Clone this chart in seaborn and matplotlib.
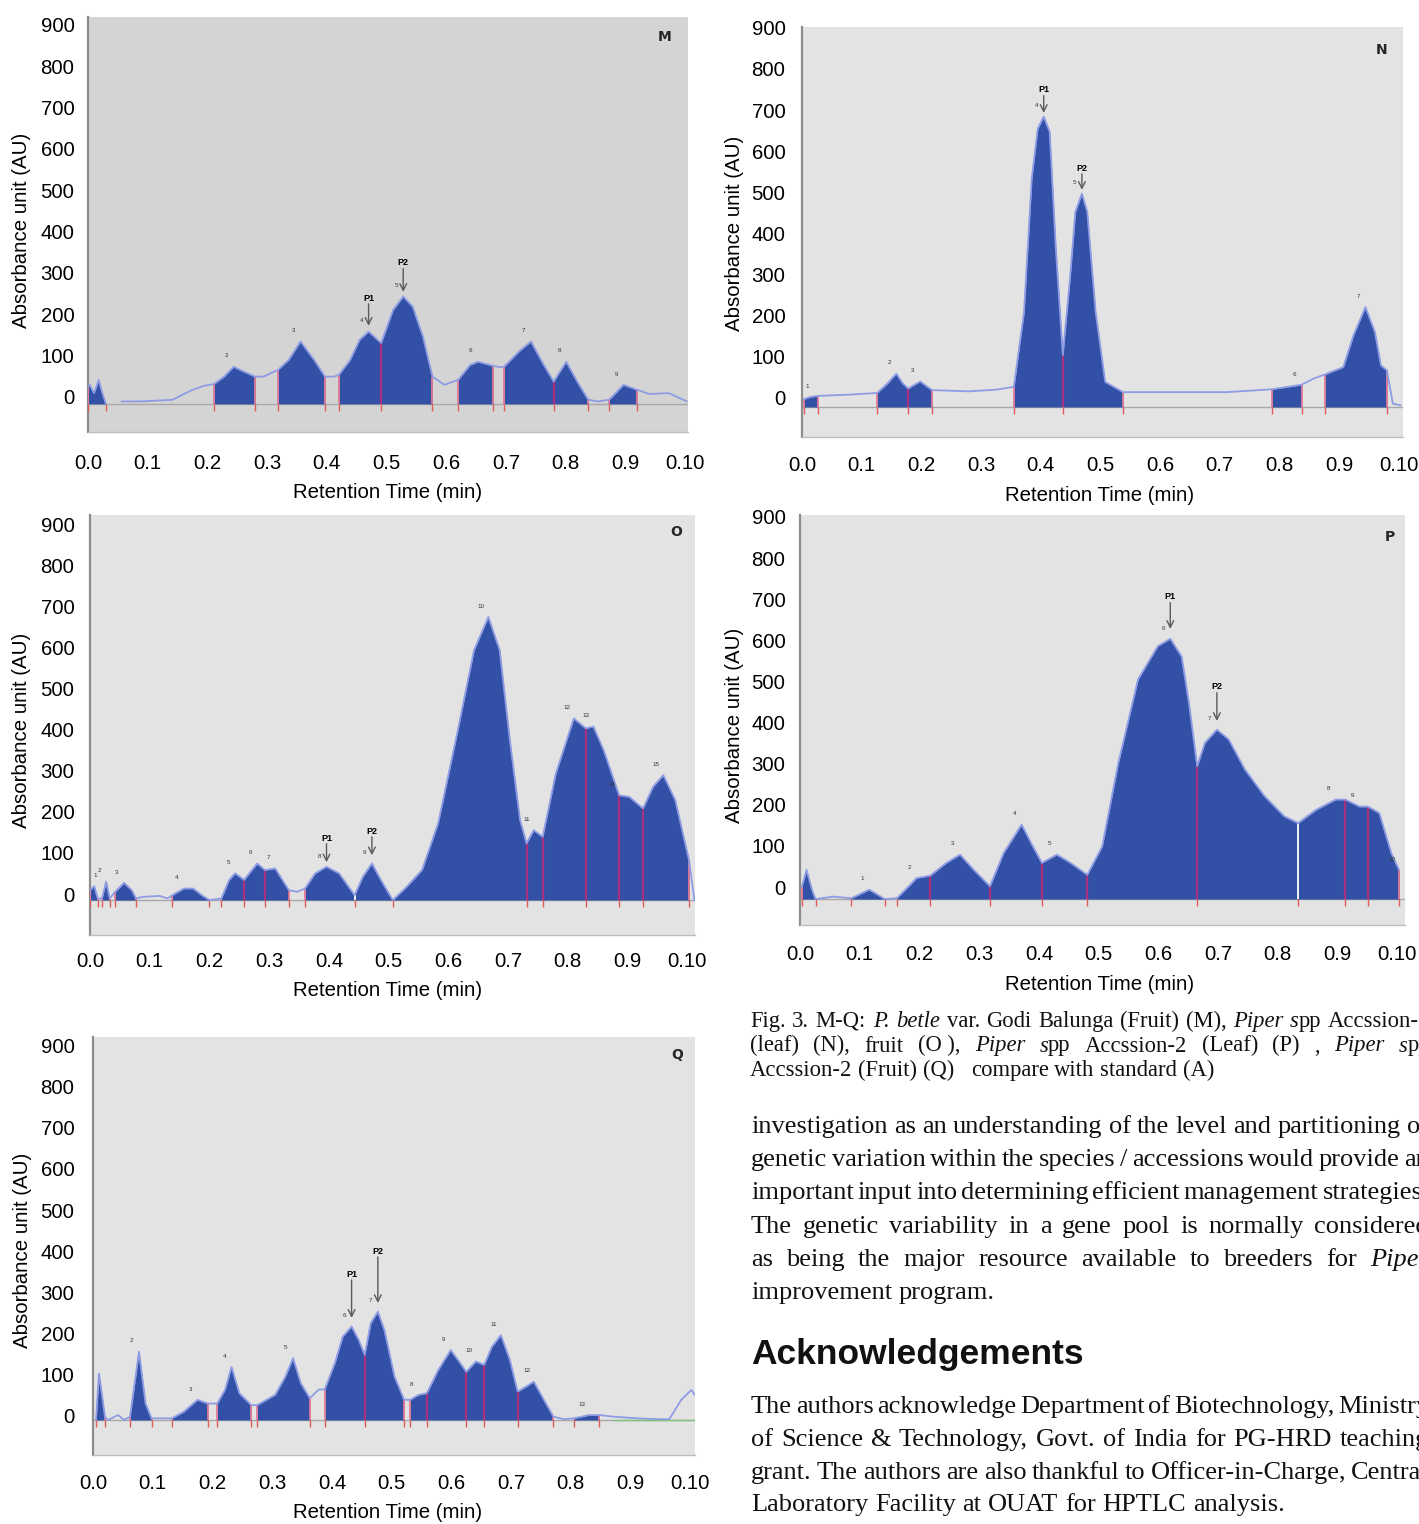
import numpy as np
import pandas as pd
import matplotlib
matplotlib.use("Agg")
import matplotlib.pyplot as plt
from matplotlib.transforms import ScaledTranslation
import seaborn as sns

# ---------------------------------------------------------------- axis ticks
x_ticks = [0.0, 0.1, 0.2, 0.3, 0.4, 0.5, 0.6, 0.7, 0.8, 0.9, 1.0]
x_tick_labels = ["0.0", "0.1", "0.2", "0.3", "0.4", "0.5", "0.6", "0.7", "0.8", "0.9", "0.10"]
y_ticks = [0, 100, 200, 300, 400, 500, 600, 700, 800, 900]

# ---------------------------------------------------------------- panel M
rt_m = [0.000, 0.003, 0.010, 0.018, 0.024, 0.030,
        0.056, 0.089, 0.142, 0.155, 0.175, 0.195, 0.211, 0.228, 0.244, 0.261,
        0.280, 0.294, 0.318, 0.336, 0.356, 0.379, 0.397, 0.412, 0.420, 0.439,
        0.455, 0.470, 0.491, 0.511, 0.528, 0.544, 0.561, 0.577, 0.597, 0.620,
        0.640, 0.653, 0.679, 0.689, 0.697, 0.722, 0.742, 0.762, 0.780, 0.801,
        0.821, 0.838, 0.854, 0.873, 0.897, 0.920, 0.940, 0.973, 1.003]
au_m = [42, 46, 26, 58, 26, 0,
        6, 6, 10, 20, 34, 44, 48, 66, 90, 78,
        66, 66, 82, 106, 151, 106, 66, 66, 70, 106,
        155, 175, 147, 227, 260, 235, 163, 66, 46, 58,
        94, 102, 92, 89, 90, 127, 151, 98, 54, 102,
        50, 10, 6, 10, 46, 34, 24, 26, 6]
seg_m = [(0.000, 0.030), (0.211, 0.280), (0.318, 0.397), (0.420, 0.577),
         (0.620, 0.679), (0.697, 0.838), (0.873, 0.920)]
div_m = [0.491, 0.780]
peak_no_m = [(0.244, "2"), (0.356, "3"), (0.470, "4"), (0.528, "5"),
             (0.653, "6"), (0.742, "7"), (0.801, "8"), (0.897, "9")]
arrow_m = [("P1", 0.470, 256, 189), ("P2", 0.528, 341, 271)]
trace_gap_m = (0.030, 0.056)

# ---------------------------------------------------------------- panel N
rt_n = [0.003, 0.013, 0.026, 0.080, 0.126, 0.143, 0.158, 0.169, 0.178, 0.198,
        0.218, 0.279, 0.325, 0.355, 0.372, 0.385, 0.395, 0.405, 0.415, 0.425,
        0.437, 0.449, 0.458, 0.469, 0.478, 0.492, 0.508, 0.538, 0.611, 0.711,
        0.787, 0.837, 0.857, 0.876, 0.907, 0.924, 0.944, 0.960, 0.970, 0.980,
        0.990, 1.003]
au_n = [19, 24, 27, 30, 34, 57, 81, 57, 45, 62,
        41, 38, 42, 49, 231, 556, 677, 706, 669, 393,
        126, 312, 474, 519, 474, 231, 61, 36, 36, 36,
        43, 54, 69, 79, 97, 174, 243, 182, 101, 89,
        8, 4]
seg_n = [(0.003, 0.026), (0.126, 0.218), (0.355, 0.538), (0.787, 0.837), (0.876, 0.980)]
div_n = [0.178, 0.437]
peak_no_n = [(0.013, "1"), (0.158, "2"), (0.198, "3"), (0.405, "4"),
             (0.469, "5"), (0.837, "6"), (0.944, "7")]
arrow_n = [("P1", 0.405, 771, 715), ("P2", 0.469, 581, 528)]

# ---------------------------------------------------------------- panel O
rt_o = [0.000, 0.007, 0.013, 0.020, 0.027, 0.033, 0.042, 0.057, 0.070, 0.077,
        0.090, 0.117, 0.130, 0.138, 0.157, 0.173, 0.187, 0.200, 0.220, 0.233,
        0.243, 0.258, 0.280, 0.293, 0.310, 0.333, 0.347, 0.360, 0.377, 0.396,
        0.417, 0.443, 0.457, 0.472, 0.487, 0.507, 0.530, 0.556, 0.583, 0.616,
        0.643, 0.667, 0.686, 0.703, 0.720, 0.731, 0.743, 0.758, 0.780, 0.810,
        0.830, 0.843, 0.860, 0.886, 0.903, 0.926, 0.943, 0.960, 0.980, 1.003,
        1.012]
au_o = [24, 34, 4, 4, 45, 4, 20, 42, 24, 4,
        8, 10, 4, 12, 28, 28, 12, 0, 4, 49,
        65, 49, 89, 73, 77, 24, 20, 28, 65, 81,
        65, 12, 57, 89, 49, 0, 32, 73, 187, 414,
        608, 689, 608, 389, 195, 138, 170, 154, 308, 442,
        418, 422, 365, 255, 251, 223, 276, 304, 243, 97,
        0]
seg_o = [(0.000, 0.013), (0.020, 0.033), (0.042, 0.077), (0.138, 0.200),
         (0.220, 0.333), (0.360, 0.443), (0.443, 0.507), (0.507, 1.003)]
div_o = [0.258, 0.293, 0.731, 0.758, 0.830, 0.886, 0.926]
peak_no_o = [(0.007, "1"), (0.027, "2"), (0.057, "3"), (0.157, "4"), (0.243, "5"),
             (0.280, "6"), (0.310, "7"), (0.396, "8"), (0.472, "9"), (0.667, "10"),
             (0.743, "11"), (0.810, "12"), (0.843, "13"), (0.886, "14"), (0.960, "15")]
arrow_o = [("P1", 0.396, 151, 92), ("P2", 0.472, 168, 109)]

# ---------------------------------------------------------------- panel P
rt_p = [0.003, 0.011, 0.020, 0.026, 0.056, 0.086, 0.116, 0.142, 0.162, 0.182,
        0.195, 0.218, 0.245, 0.268, 0.291, 0.318, 0.341, 0.371, 0.390, 0.405,
        0.430, 0.453, 0.481, 0.506, 0.533, 0.566, 0.599, 0.620, 0.639, 0.652,
        0.665, 0.678, 0.698, 0.718, 0.745, 0.778, 0.811, 0.834, 0.864, 0.897,
        0.913, 0.937, 0.951, 0.970, 0.990, 1.003]
au_p = [30, 71, 23, 0, 6, 2, 23, 0, 2, 31,
        51, 57, 88, 108, 71, 31, 112, 181, 128, 88,
        108, 88, 59, 128, 331, 534, 615, 633, 590, 469,
        323, 380, 412, 388, 315, 250, 201, 185, 217, 242,
        242, 225, 225, 209, 112, 71]
seg_p = [(0.003, 0.026), (0.086, 0.142), (0.162, 0.834), (0.834, 1.003)]
div_p = [0.218, 0.318, 0.405, 0.481, 0.665, 0.913, 0.951]
peak_no_p = [(0.116, "1"), (0.195, "2"), (0.268, "3"), (0.371, "4"), (0.430, "5"),
             (0.620, "6"), (0.698, "7"), (0.897, "8"), (0.937, "9"), (1.003, "10")]
arrow_p = [("P1", 0.620, 735, 657), ("P2", 0.698, 516, 433)]

# ---------------------------------------------------------------- panel Q
rt_q = [0.005, 0.010, 0.020, 0.025, 0.042, 0.052, 0.062, 0.077, 0.088, 0.098,
        0.132, 0.152, 0.175, 0.192, 0.208, 0.221, 0.232, 0.245, 0.265, 0.275,
        0.305, 0.322, 0.335, 0.348, 0.363, 0.378, 0.388, 0.405, 0.418, 0.433,
        0.445, 0.455, 0.465, 0.477, 0.488, 0.505, 0.521, 0.531, 0.545, 0.559,
        0.578, 0.599, 0.615, 0.625, 0.641, 0.655, 0.668, 0.683, 0.698, 0.711,
        0.725, 0.738, 0.755, 0.771, 0.788, 0.805, 0.831, 0.848, 0.872, 0.912,
        0.945, 0.965, 0.985, 1.002, 1.008]
au_q = [0, 113, 8, 0, 12, 0, 8, 166, 40, 4,
        4, 20, 49, 40, 40, 73, 129, 65, 36, 36,
        61, 105, 150, 89, 53, 74, 74, 138, 202, 227,
        194, 158, 235, 263, 218, 105, 49, 49, 61, 65,
        121, 170, 138, 117, 142, 134, 178, 206, 146, 69,
        81, 93, 49, 8, 2, 4, 12, 12, 8, 4,
        2, 2, 49, 73, 60]
seg_q = [(0.005, 0.020), (0.062, 0.098), (0.132, 0.192), (0.208, 0.265),
         (0.275, 0.363), (0.388, 0.521), (0.531, 0.771), (0.805, 0.848)]
div_q = [0.455, 0.559, 0.625, 0.655, 0.711]
peak_no_q = [(0.077, "2"), (0.175, "3"), (0.232, "4"), (0.335, "5"), (0.433, "6"),
             (0.477, "7"), (0.545, "8"), (0.599, "9"), (0.641, "10"), (0.683, "11"),
             (0.738, "12"), (0.831, "13")]
arrow_q = [("P1", 0.433, 354, 248), ("P2", 0.477, 410, 284)]

# ---------------------------------------------------------------- page text
caption_lines = [
    ("Fig. 3. M-Q: *P. betle* var. Godi Balunga (Fruit) (M), *Piper s*pp Accssion-", True),
    ("(leaf) (N), fruit (O\u00a0), *Piper s*pp Accssion-2 (Leaf) (P) , *Piper s*pp", True),
    ("Accssion-2 (Fruit) (Q)   compare with standard (A)", False),
]
body_lines = [
    ("investigation as an understanding of the level and partitioning of", True),
    ("genetic variation within the species / accessions would provide an", True),
    ("important input into determining efficient management strategies.", True),
    ("The genetic variability in a gene pool is normally considered", True),
    ("as being the major resource available to breeders for *Piper*", True),
    ("improvement program.", False),
]
heading = "Acknowledgements"
ack_lines = [
    ("The authors acknowledge Department of Biotechnology, Ministry", True),
    ("of Science & Technology, Govt. of India for PG-HRD teaching", True),
    ("grant. The authors are also thankful to Officer-in-Charge, Central", True),
    ("Laboratory Facility at OUAT for HPTLC analysis.", False),
]

# ---------------------------------------------------------------- styling
W, H = 1419, 1524
FILL = "#3150A6"
TRACE = "#8E9CE4"
EDGE = "#E27A96"
DIV = "#A8307C"
MARK = "#E25B5B"
BASE = "#A8A8A8"
TICK_FS = 14.7
LABEL_FS = 14.7

sns.set_theme(style="white")
plt.rcParams["font.family"] = ["Liberation Sans", "DejaVu Sans"]

fig = plt.figure(figsize=(W / 100, H / 100), dpi=100)
fig.patch.set_facecolor("white")


def make_axes(box):
    left, top, right, bottom = box
    return fig.add_axes([left / W, 1 - bottom / H, (right - left) / W, (bottom - top) / H])


def frac(box, px, py):
    left, top, right, bottom = box
    return (px - left) / (right - left), (bottom - py) / (bottom - top)


def draw_chromatogram(ax, rt, au, segs, divs, peak_no, arrows, gap=None):
    rt = np.asarray(rt, float)
    au = np.asarray(au, float)
    value_at = dict(zip(np.round(rt, 3), au))

    ax.axhline(0, color=BASE, lw=1.0, zorder=1)

    ends = [b for s in segs for b in s]
    shared = {b for b in ends if ends.count(b) > 1}
    for s, e in segs:
        m = (rt >= s - 1e-9) & (rt <= e + 1e-9)
        ax.fill_between(rt[m], 0, au[m], color=FILL, lw=0, zorder=2)
    for b in sorted(set(ends)):
        ax.vlines(b, 0, value_at[round(b, 3)], color=("white" if b in shared else EDGE),
                  lw=1.3, zorder=3)
        ax.vlines(b, -16, 0, color=MARK, lw=1.0, zorder=3)
    for d in divs:
        ax.vlines(d, 0, value_at[round(d, 3)], color=DIV, lw=1.6, zorder=3)
        ax.vlines(d, -16, 0, color=MARK, lw=1.0, zorder=3)

    piece = np.zeros(len(rt), int)
    if gap is not None:
        piece[rt >= gap[1]] = 1
    df = pd.DataFrame({"rt": rt, "au": au, "piece": piece})
    sns.lineplot(data=df, x="rt", y="au", units="piece", estimator=None, sort=False,
                 color=TRACE, lw=1.3, ax=ax, zorder=4)

    for x, lab in peak_no:
        ax.text(max(x - 0.012, 0.008), value_at[round(x, 3)] + 20, lab, fontsize=4.5,
                color="#333333", ha="center", va="bottom", zorder=5)
    for lab, x, ytxt, ytip in arrows:
        ax.annotate("", xy=(x, ytip), xytext=(x, ytxt - 14),
                    arrowprops=dict(arrowstyle="->", color="#5A5A5A", lw=1.0,
                                    shrinkA=0, shrinkB=0), zorder=5)
        ax.text(x, ytxt, lab, fontsize=6.5, fontweight="bold", color="black",
                ha="center", va="center", zorder=5)


def style_axes(ax, p):
    box = p["box"]
    ax.set_facecolor(p["bg"])
    ax.set_xlim(0, p["xmax"])
    ax.set_ylim(p["ylim"])
    ax.set_xticks(x_ticks, x_tick_labels)
    ax.set_yticks(y_ticks, [str(v) for v in y_ticks])
    for sp in ("top", "right"):
        ax.spines[sp].set_visible(False)
    ax.spines["left"].set_color("#8C8C8C")
    ax.spines["left"].set_linewidth(1.6)
    ax.spines["bottom"].set_color("#BDBDBD")
    ax.spines["bottom"].set_linewidth(1.0)
    ax.tick_params(axis="x", length=4, width=0.8, color="#9A9A9A",
                   pad=p["xpad"] * 0.72, labelsize=TICK_FS, labelcolor="black")
    ax.tick_params(axis="y", length=4, width=0.8, color="#9A9A9A",
                   pad=p["ypad"] * 0.72, labelsize=TICK_FS, labelcolor="black")
    ax.set_xlabel("Retention Time (min)", fontsize=LABEL_FS, color="black", va="center")
    ax.set_ylabel("Absorbance unit (AU)", fontsize=LABEL_FS, color="black", va="center")
    ax.xaxis.set_label_coords(*frac(box, *p["xlab"]))
    ax.yaxis.set_label_coords(*frac(box, *p["ylab"]))
    fx, fy = frac(box, *p["letter"])
    ax.text(fx, fy, p["name"], transform=ax.transAxes, fontsize=10, fontweight="bold",
            ha="center", va="center", family="DejaVu Sans")
    shift = ScaledTranslation(0, p["yoff"] / 100, fig.dpi_scale_trans)
    for lab in ax.get_yticklabels():
        lab.set_transform(lab.get_transform() + shift)


panels = [
    dict(name="M", data=(rt_m, au_m, seg_m, div_m, peak_no_m, arrow_m, trace_gap_m),
         box=(88, 17, 688, 432), bg="#D4D4D4", xmax=1.005, ylim=(-68, 936),
         xpad=16, ypad=8, yoff=7, xlab=(388, 493), ylab=(22, 230), letter=(665, 37)),
    dict(name="N", data=(rt_n, au_n, seg_n, div_n, peak_no_n, arrow_n, None),
         box=(802, 27, 1403, 437), bg="#E3E3E3", xmax=1.007, ylim=(-73, 924),
         xpad=13.5, ypad=11, yoff=9, xlab=(1100, 495), ylab=(735, 233), letter=(1382, 50)),
    dict(name="O", data=(rt_o, au_o, seg_o, div_o, peak_no_o, arrow_o, None),
         box=(90, 515, 695, 935), bg="#E3E3E3", xmax=1.013, ylim=(-85, 937),
         xpad=11.5, ypad=10, yoff=6, xlab=(388, 991), ylab=(22, 730), letter=(676, 532)),
    dict(name="P", data=(rt_p, au_p, seg_p, div_p, peak_no_p, arrow_p, None),
         box=(800, 515, 1405, 925), bg="#E3E3E3", xmax=1.013, ylim=(-63, 934),
         xpad=14.5, ypad=9, yoff=12, xlab=(1100, 984), ylab=(735, 725), letter=(1390, 537)),
    dict(name="Q", data=(rt_q, au_q, seg_q, div_q, peak_no_q, arrow_q, None),
         box=(93, 1037, 695, 1455), bg="#E3E3E3", xmax=1.008, ylim=(-85, 930),
         xpad=13.5, ypad=13, yoff=4, xlab=(388, 1513), ylab=(22, 1250), letter=(677, 1055)),
]

for p in panels:
    ax = make_axes(p["box"])
    rt, au, segs, divs, pk, arr, gap = p["data"]
    draw_chromatogram(ax, rt, au, segs, divs, pk, arr, gap)
    if p["name"] == "Q":
        ax.hlines(0, 0.87, p["xmax"], color="#7CC47C", lw=1.0, zorder=1.5)
    style_axes(ax, p)

# ---------------------------------------------------------------- text column
renderer = fig.canvas.get_renderer()


def parse_words(line):
    """Split a line into words; each word is a list of (text, italic) runs."""
    words, runs, buf, italic = [], [], "", False
    for ch in line + " ":
        if ch == "*":
            if buf:
                runs.append((buf, italic))
            buf, italic = "", not italic
        elif ch == " ":
            if buf:
                runs.append((buf, italic))
            words.append(runs)
            runs, buf = [], ""
        else:
            buf += ch
    return words


def text_line(line, x0, base_y, size, family, justify_to=None):
    words = parse_words(line)
    placed = []
    for runs in words:
        items = []
        for txt, it in runs:
            t = fig.text(0, 1 - base_y / H, txt, fontsize=size, family=family,
                         style="italic" if it else "normal", ha="left", va="baseline",
                         color="#111111")
            items.append((t, t.get_window_extent(renderer).width))
        placed.append(items)
    probe_a = fig.text(0, 0, "a a", fontsize=size, family=family)
    probe_b = fig.text(0, 0, "aa", fontsize=size, family=family)
    space = probe_a.get_window_extent(renderer).width - probe_b.get_window_extent(renderer).width
    probe_a.remove()
    probe_b.remove()
    total = sum(w for items in placed for _, w in items)
    gap = space
    if justify_to is not None and len(placed) > 1:
        gap = max((justify_to - x0 - total) / (len(placed) - 1), 0.12 * size)
    x = x0
    for items in placed:
        for t, w in items:
            t.set_x(x / W)
            x += w
        x += gap


SERIF = ["Liberation Serif", "DejaVu Serif"]
for i, (line, just) in enumerate(caption_lines):
    edge = 1419 if i == 0 else 1430
    text_line(line, 750, 1027 + i * 24.5, 16.3, SERIF, edge if just else None)
for i, (line, just) in enumerate(body_lines):
    text_line(line, 751, 1133 + i * 33.2, 19, SERIF, 1429 if just else None)
fig.text(751 / W, 1 - 1364 / H, heading, fontsize=25.5, fontweight="bold",
         family=["Liberation Sans", "DejaVu Sans"], ha="left", va="baseline", color="#111111")
for i, (line, just) in enumerate(ack_lines):
    text_line(line, 751, 1413 + i * 32.8, 19, SERIF, 1429 if just else None)

fig.savefig("out.png", dpi=100, facecolor="white")
